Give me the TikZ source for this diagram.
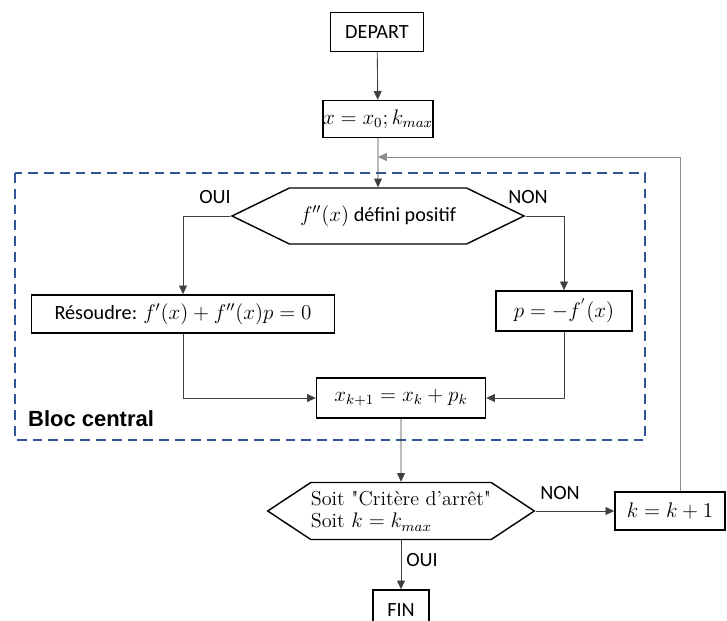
\documentclass[tikz,border=0pt]{standalone}
\usepackage[no-math]{fontspec}
\setmainfont{Carlito}
\newfontfamily\blocfont{Liberation Sans}
\newfontfamily\soitfont{Latin Modern Roman}
\usetikzlibrary{arrows.meta,positioning,shapes.symbols}

\definecolor{blocbleu}{RGB}{47,85,151}
\tikzset{
    boite/.style={draw, line width=0.8pt, rectangle, inner sep=0pt, align=center},
    test/.style={draw, line width=0.8pt, signal, signal to=west and east,
        inner sep=0pt, align=center},
    fleche/.style={-{Triangle[length=5pt,width=4.5pt]}, line width=0.5pt, draw=black!75},
    trait/.style={line width=0.5pt, draw=black!75},
    bloc/.style={dashed, dash pattern=on 5.6pt off 3.4pt, line width=1.4pt, draw=blocbleu}
}

\begin{document}
\begin{tikzpicture}[x=0.02cm, y=-0.02cm, font=\fontsize{11.5}{13}\selectfont]
\useasboundingbox (0,0) rectangle (727,621);
\clip (0,0) rectangle (727,621);

% Bloc central
\draw[bloc] (15,173) rectangle (645,440);
\node[font=\blocfont\bfseries\fontsize{12.5}{14}\selectfont, anchor=west] (nombloc) at (22,419) {Bloc central};

% Noeuds
\node[boite, minimum width=1.86cm, minimum height=0.78cm] (depart) at (377,32) {DEPART};
\node[boite, minimum width=2.12cm, minimum height=0.74cm] (init) at (378,119) {$x = x_0 ; k_{max}$};
\node[test, minimum width=5.84cm, minimum height=1.12cm, signal pointer angle=52] (hessien) at (378,216) {$f''(x)$ défini positif};
\node[boite, minimum width=6.06cm, minimum height=0.76cm] (newton) at (183,314) {Résoudre: $f'(x) + f''(x)p = 0$};
\node[boite, minimum width=2.72cm, minimum height=0.8cm] (gradient) at (564,311) {$p = -f^{'}(x)$};
\node[boite, minimum width=3.38cm, minimum height=0.8cm] (maj) at (401,398) {$x_{k+1} = x_k + p_k$};
\node[test, minimum width=5.24cm, minimum height=1.14cm, signal pointer angle=67,
    font=\soitfont\fontsize{11.5}{13}\selectfont, align=left] (critere) at (401,511)
    {Soit "Critère d’arrêt"\\Soit $k = k_{max}$};
\node[boite, minimum width=2.2cm, minimum height=0.76cm] (incr) at (670,511) {$k = k + 1$};
\node[boite, minimum width=1.12cm, minimum height=0.8cm] (fin) at (401,610) {FIN};

% Connecteurs
\coordinate (retour) at (378,157);
\draw[fleche] (depart) -- (init);
\draw[fleche] (init) -- (hessien);
\draw[fleche] (hessien.west) -| (newton.north);
\draw[fleche] (hessien.east) -| (gradient.north);
\draw[fleche] (newton.south) |- (maj.west);
\draw[fleche] (gradient.south) |- (maj.east);
\draw[fleche] (maj) -- (critere);
\draw[fleche] (critere.east) -- (incr.west);
\draw[fleche] (critere.south) -- (fin.north);
\draw[fleche, draw=black!45] ([xshift=0.2cm]incr.north) |- (retour);

% Etiquettes
\node (oui1) at (215,197) {OUI};
\node (non1) at (528,197) {NON};
\node (non2) at (560,493) {NON};
\node (oui2) at (422,560) {OUI};

\end{tikzpicture}
\end{document}
